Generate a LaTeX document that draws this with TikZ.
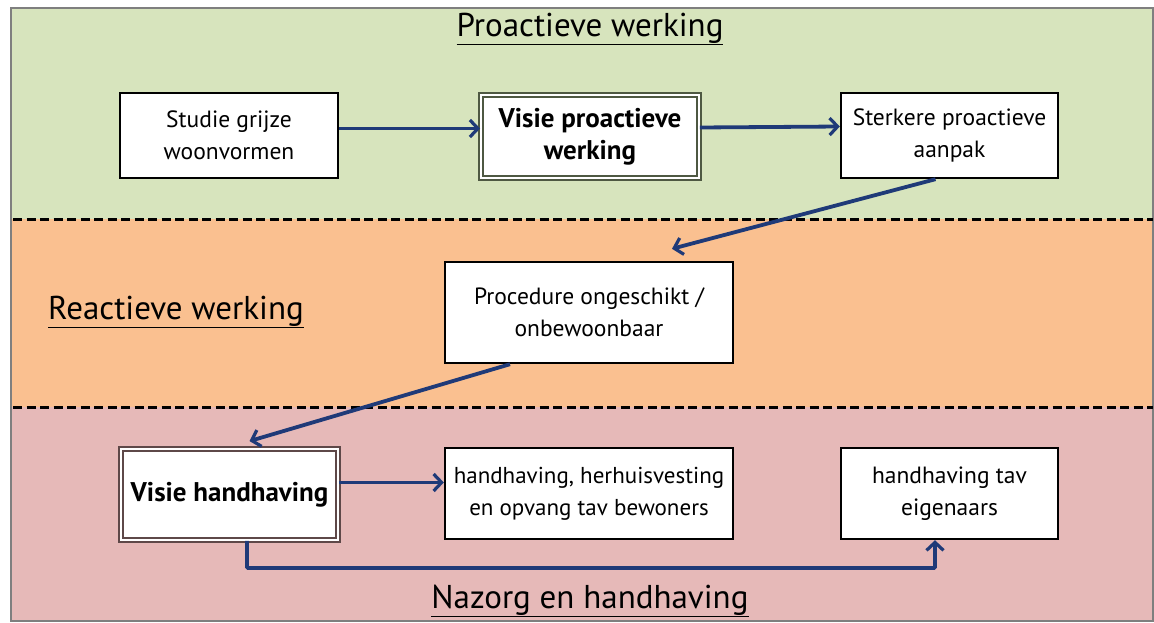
\documentclass[tikz,border=0pt]{standalone}
\usepackage{fontspec}
\setmainfont{PT Sans}
\usetikzlibrary{arrows.meta}
\definecolor{bandgreen}{HTML}{D7E4BD}
\definecolor{bandorange}{HTML}{FAC090}
\definecolor{bandpink}{HTML}{E6B9B8}
\definecolor{navy}{HTML}{1F3A78}
\definecolor{framegray}{HTML}{7F7F7F}
\definecolor{olivegray}{HTML}{4E5842}
\definecolor{browngray}{HTML}{5E4848}
\tikzset{
  box/.style={draw=black, line width=2.4pt, fill=white, align=center, inner sep=0pt,
    font=\fontsize{23.5}{32}\selectfont},
  dbox/.style={box, double=white, double distance=2pt, line width=1.8pt,
    font=\bfseries\fontsize{27}{32}\selectfont},
  arr/.style={navy, line width=3.8pt, -{Straight Barb[length=8pt,width=17pt,line width=3.2pt]}},
  sep/.style={black, line width=3pt, dash pattern=on 9pt off 4.5pt},
  sectitle/.style={font=\fontsize{33}{38}\selectfont, inner sep=0pt}
}
\begin{document}
\begin{tikzpicture}[x=1pt,y=-1pt]
\useasboundingbox (0,0) rectangle (1154,623);
\fill[white] (0,0) rectangle (1154,623);
% bands
\fill[bandgreen] (11,8) rectangle (1153,219);
\fill[bandorange] (11,219) rectangle (1153,407);
\fill[bandpink] (11,407) rectangle (1153,621);
\draw[framegray, line width=2.4pt] (11,8) rectangle (1153,621);
\draw[sep] (13,219) -- (1153,219);
\draw[sep] (13,407) -- (1153,407);
% titles
\node[sectitle] (t1) at (590,29) {\underline{Proactieve werking}};
\node[sectitle, anchor=west] (t2) at (48,312) {\underline{Reactieve werking}};
\node[sectitle] (t3) at (590,601) {\underline{Nazorg en handhaving}};
% boxes
\node[box, minimum width=218pt, minimum height=85pt] (st) at (229,135.5) {Studie grijze\\woonvormen};
\node[dbox, draw=olivegray, minimum width=218pt, minimum height=83pt] (vp) at (590,136.5) {Visie proactieve\\werking};
\node[box, minimum width=217pt, minimum height=85pt] (sp) at (949.5,135.5) {Sterkere proactieve\\aanpak};
\node[box, minimum width=288pt, minimum height=101pt] (proc) at (589,312.5) {Procedure ongeschikt /\\onbewoonbaar};
\node[dbox, draw=browngray, minimum width=217pt, minimum height=91pt] (vh) at (229.5,494.5) {Visie handhaving};
\node[box, minimum width=288pt, minimum height=91pt, font=\fontsize{23}{32}\selectfont] (hh) at (589,493.5) {handhaving, herhuisvesting\\en opvang tav bewoners};
\node[box, minimum width=217pt, minimum height=91pt] (eig) at (949.5,493.5) {handhaving tav\\eigenaars};
% connectors
\draw[arr] ([yshift=7pt]st.east) -- ([yshift=8pt]vp.west);
\draw[arr] ([yshift=9pt]vp.east) -- ([yshift=9pt]sp.west);
\draw[arr] ([xshift=-14pt]sp.south) -- ([xshift=83pt,yshift=12pt]proc.north);
\draw[arr] ([xshift=-79pt]proc.south) -- ([xshift=20pt,yshift=7pt]vh.north);
\draw[arr] ([yshift=12pt]vh.east) -- ([yshift=11pt]hh.west);
\draw[arr, rounded corners=1pt] ([xshift=17.5pt]vh.south) |- (935,568) -- ([xshift=-14.5pt]eig.south);
\end{tikzpicture}
\end{document}
